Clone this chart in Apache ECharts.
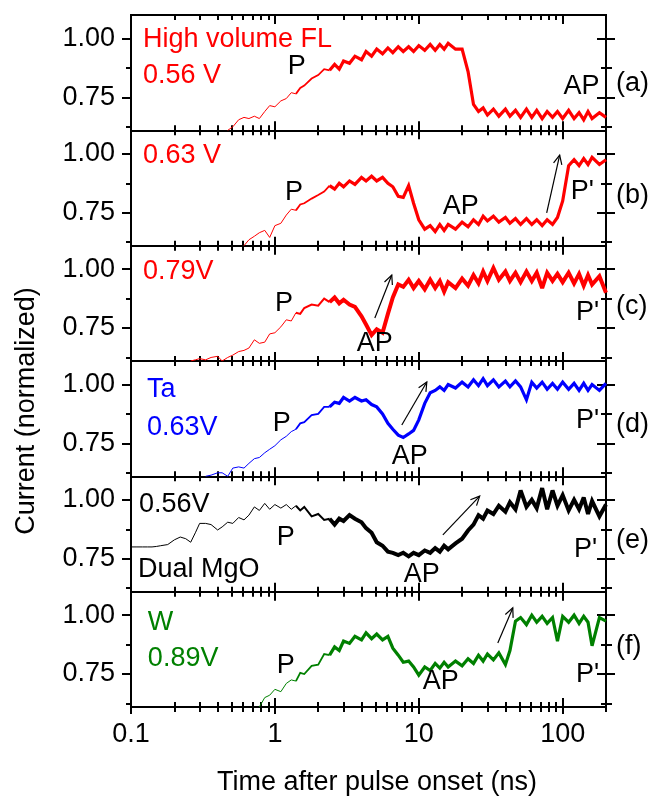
<!DOCTYPE html>
<html><head><meta charset="utf-8">
<script src="https://cdn.jsdelivr.net/npm/echarts@6/dist/echarts.min.js"></script>
<style>html,body{margin:0;padding:0;background:#fff}#c{width:654px;height:802px}</style>
</head><body><div id="c"></div>
<script>
// ---- data ----
const times = [
  0.10,0.11,0.12,0.13,0.14,0.15,0.16,0.18,0.20,0.22,0.24,0.26,0.28,0.30,0.33,0.36,0.40,0.43,0.47,0.51,0.56,0.61,0.66,0.72,0.78,0.85,0.92,
  1.0,1.1,1.2,1.3,1.4,1.5,1.6,1.8,2.0,2.2,2.4,2.6,2.8,3.0,3.3,3.6,4.0,4.3,4.7,5.1,5.6,6.1,6.6,7.2,7.8,8.5,9.2,
  10,11,12,13,14,15,16,18,20,22,24,26,28,30,33,36,40,43,47,51,56,61,66,72,78,85,92,
  100,110,120,130,140,150,160,180,200];
const panelA = [
  null,null,null,null,null,null,null,null,null,null,null,null,null,null,null,null,null,null,0.61,0.625,0.655,0.665,0.66,0.67,0.66,0.69,0.715,
  0.71,0.735,0.745,0.77,0.765,0.79,0.80,0.83,0.845,0.87,0.865,0.89,0.87,0.905,0.895,0.925,0.91,0.945,0.925,0.955,0.935,0.96,0.94,0.965,0.945,0.965,0.945,
  0.97,0.95,0.975,0.95,0.975,0.955,0.98,0.955,0.955,0.86,0.72,0.69,0.705,0.675,0.70,0.67,0.70,0.67,0.695,0.665,0.70,0.665,0.695,0.66,0.69,0.665,0.69,
  0.66,0.695,0.66,0.685,0.655,0.69,0.66,0.685,0.665];
const panelB = [
  null,null,null,null,null,null,null,null,null,null,null,null,null,null,null,null,null,null,null,null,null,0.61,0.635,0.65,0.665,0.675,0.645,
  0.695,0.705,0.74,0.765,0.76,0.785,0.79,0.81,0.825,0.84,0.865,0.85,0.875,0.86,0.885,0.87,0.90,0.885,0.905,0.885,0.90,0.875,0.86,0.82,0.815,0.865,0.79,
  0.72,0.68,0.695,0.67,0.70,0.675,0.70,0.68,0.71,0.69,0.72,0.70,0.735,0.715,0.735,0.71,0.73,0.705,0.725,0.70,0.725,0.70,0.72,0.695,0.72,0.70,0.73,
  0.80,0.95,0.975,0.95,0.98,0.955,0.985,0.955,0.975];
const panelC = [
  null,null,null,null,null,null,null,null,null,null,null,0.61,0.615,0.62,0.615,0.625,0.63,0.61,0.625,0.635,0.65,0.655,0.665,0.70,0.685,0.69,0.725,
  0.73,0.755,0.785,0.78,0.815,0.81,0.835,0.85,0.845,0.875,0.86,0.88,0.855,0.87,0.85,0.84,0.80,0.765,0.72,0.745,0.73,0.81,0.88,0.935,0.925,0.955,0.92,
  0.95,0.915,0.955,0.92,0.95,0.905,0.945,0.92,0.96,0.93,0.975,0.94,0.99,0.95,1.005,0.955,0.99,0.95,0.985,0.945,0.99,0.95,0.985,0.92,0.985,0.95,0.98,
  0.945,0.985,0.94,0.98,0.93,0.975,0.935,0.97,0.90];
const panelD = [
  null,null,null,null,null,null,null,null,null,null,null,null,null,null,0.61,0.615,0.625,0.625,0.61,0.645,0.65,0.645,0.665,0.685,0.69,0.71,0.725,
  0.74,0.765,0.78,0.80,0.81,0.835,0.84,0.87,0.875,0.905,0.905,0.925,0.92,0.945,0.93,0.945,0.93,0.935,0.915,0.905,0.875,0.835,0.81,0.785,0.775,0.79,0.805,
  0.85,0.92,0.965,0.975,0.99,0.975,1.0,0.985,1.01,0.99,1.02,0.995,1.025,0.995,1.02,0.99,1.015,0.99,1.015,0.99,0.935,1.01,0.985,1.01,0.98,1.005,0.98,
  1.01,0.98,1.005,0.975,1.005,0.975,1.0,0.975,1.005];
const panelE = [
  0.80,0.80,0.80,0.80,0.80,0.802,0.805,0.81,0.83,0.842,0.835,0.82,0.86,0.90,0.90,0.895,0.872,0.885,0.905,0.90,0.925,0.915,0.935,0.97,0.955,0.985,0.96,
  0.98,0.965,0.98,0.96,0.975,0.955,0.97,0.93,0.94,0.915,0.92,0.895,0.92,0.91,0.935,0.92,0.905,0.88,0.86,0.82,0.805,0.78,0.775,0.765,0.775,0.76,0.775,
  0.765,0.785,0.775,0.795,0.78,0.805,0.79,0.815,0.835,0.87,0.895,0.935,0.92,0.955,0.94,0.975,0.95,0.99,0.96,1.04,0.97,1.0,0.965,1.05,0.96,1.04,0.975,
  1.02,0.955,1.0,0.96,1.01,0.94,0.995,0.93,0.98];
const panelF = [
  null,null,null,null,null,null,null,null,null,null,null,null,null,null,null,null,null,null,null,null,null,null,null,null,0.61,0.65,0.66,
  0.685,0.675,0.71,0.725,0.72,0.755,0.75,0.785,0.79,0.835,0.83,0.865,0.85,0.89,0.88,0.91,0.895,0.925,0.90,0.92,0.895,0.91,0.86,0.83,0.80,0.805,0.78,
  0.745,0.78,0.765,0.795,0.775,0.80,0.78,0.805,0.785,0.815,0.795,0.83,0.805,0.835,0.81,0.84,0.79,0.85,0.975,0.99,0.96,1.0,0.97,0.995,0.965,0.99,0.89,
  0.995,0.97,1.0,0.965,0.995,0.97,0.87,0.99,0.975];
const panels = [panelA, panelB, panelC, panelD, panelE, panelF];
const panelColors = ['#ff0000','#ff0000','#ff0000','#0000ff','#000000','#008000'];
const panelLetters = ['(a)','(b)','(c)','(d)','(e)','(f)'];
const letterY = [0.807, 0.825, 0.84, 0.828, 0.828, 0.866];
const xMajor = [0.1, 1, 10, 100];
const xMajorLabels = ['0.1', '1', '10', '100'];
const xMinor = [0.2,0.3,0.4,0.5,0.6,0.7,0.8,0.9,2,3,4,5,6,7,8,9,20,30,40,50,60,70,80,90,200];
const yMajor = [0.75, 1.00];
const yMajorLabels = ['0.75', '1.00'];
const yMinor = [0.625, 0.875];
// notes: [panel, text, time, value, color, align]
const notes = [
  [0,'High volume FL',0.121,0.994,'#ff0000','left'],
  [0,'0.56 V',0.121,0.841,'#ff0000','left'],
  [0,'P',1.42,0.883,'#000','center'],
  [0,'AP',135,0.794,'#000','center'],
  [1,'0.63 V',0.121,0.991,'#ff0000','left'],
  [1,'P',1.355,0.834,'#000','center'],
  [1,'AP',19.6,0.778,'#000','center'],
  [1,"P'",137,0.842,'#000','center'],
  [2,'0.79V',0.121,0.988,'#ff0000','left'],
  [2,'P',1.155,0.856,'#000','center'],
  [2,'AP',4.95,0.686,'#000','center'],
  [2,"P'",149,0.814,'#000','center'],
  [3,'Ta',0.129,0.977,'#0000ff','left'],
  [3,'0.63V',0.129,0.819,'#0000ff','left'],
  [3,'P',1.118,0.836,'#000','center'],
  [3,'AP',8.66,0.696,'#000','center'],
  [3,"P'",149,0.849,'#000','center'],
  [4,'0.56V',0.1137,0.982,'#000','left'],
  [4,'Dual MgO',0.112,0.702,'#000','left'],
  [4,'P',1.192,0.838,'#000','center'],
  [4,'AP',10.5,0.681,'#000','center'],
  [4,"P'",144,0.791,'#000','center'],
  [5,'W',0.131,0.967,'#008000','left'],
  [5,'0.89V',0.131,0.814,'#008000','left'],
  [5,'P',1.192,0.784,'#000','center'],
  [5,'AP',14.2,0.72,'#000','center'],
  [5,"P'",149,0.746,'#000','center']
];
// arrows: [panel, t1, v1, t2, v2]
const arrows = [
  [1, 77.4, 0.749, 95.3, 0.995],
  [2, 4.95, 0.793, 6.49, 0.975],
  [3, 7.62, 0.828, 11.37, 1.011],
  [4, 14.7, 0.851, 26.5, 1.016],
  [5, 35.4, 0.882, 45, 1.031]
];
// trace segments: [first index, last index] with stroke width per panel
const segBreaks = [0, 31, 37, 89];
const segWidths = [[1, 1.8, 3.2], [1, 1.8, 3.2], [1, 2, 4], [1, 1.8, 3.2], [1, 2, 4], [1, 1.8, 3.2]];

// ---- chart ----
const FONT = '"Liberation Sans", Arial, Helvetica, sans-serif';
const FS = 27;
const chart = echarts.init(document.getElementById('c'), null, {renderer:'canvas'});
const TOP = 15, H = 115.33;
const grid = [], xAxis = [], yAxis = [], series = [];
const mainSeries = [];
const axLine = {show:true, onZero:false, lineStyle:{color:'#000', width:2}};
function tick(vals, inside, len){ return {show:true, inside:inside, length:len, customValues:vals, lineStyle:{color:'#000', width:2}}; }
for (let i = 0; i < 6; i++) {
  grid.push({left:131, width:475, top:TOP + i*H, height:H});
  const xb = {type:'log', logBase:10, min:0.1, max:200, gridIndex:i, axisLine:axLine, splitLine:{show:false}, minorTick:{show:false}, axisLabel:{show:false}};
  const xi0 = xAxis.length;
  xAxis.push(Object.assign({}, xb, {position:'bottom', axisTick:tick(xMajor, true, 9),
    axisLabel: i === 5 ? {show:true, customValues:xMajor, margin:14, fontSize:FS, fontFamily:FONT, color:'#000',
      formatter: v => { const k = xMajor.findIndex(m => Math.abs(m - v) < 1e-9 * Math.max(1, m)); return k >= 0 ? xMajorLabels[k] : ''; }} : {show:false}}));
  xAxis.push(Object.assign({}, xb, {position:'bottom', axisTick:tick(xMinor, true, 5)}));
  xAxis.push(Object.assign({}, xb, {position:'top', axisTick:tick(xMajor, true, 9)}));
  xAxis.push(Object.assign({}, xb, {position:'top', axisTick:tick(xMinor, true, 5)}));
  if (i === 5) {
    xAxis.push(Object.assign({}, xb, {position:'bottom', axisTick:tick(xMajor, false, 7)}));
    xAxis.push(Object.assign({}, xb, {position:'bottom', axisTick:tick(xMinor, false, 5)}));
  }
  const yb = {type:'value', min:0.61, max:1.10, gridIndex:i, axisLine:axLine, splitLine:{show:false}, axisLabel:{show:false}};
  const yi0 = yAxis.length;
  yAxis.push(Object.assign({}, yb, {position:'left', axisTick:tick(yMajor, false, 9),
    axisLabel:{show:true, customValues:yMajor, margin:16, fontSize:FS, fontFamily:FONT, color:'#000',
      formatter: v => { const k = yMajor.findIndex(m => Math.abs(m - v) < 1e-6); return k >= 0 ? yMajorLabels[k] : ''; }}}));
  yAxis.push(Object.assign({}, yb, {position:'left', axisTick:tick(yMinor, false, 5)}));
  yAxis.push(Object.assign({}, yb, {position:'right', axisTick:tick(yMajor, false, 9)}));
  yAxis.push(Object.assign({}, yb, {position:'right', axisTick:tick(yMajor, true, 9)}));
  yAxis.push(Object.assign({}, yb, {position:'right', axisTick:tick(yMinor, false, 6)}));
  yAxis.push(Object.assign({}, yb, {position:'right', axisTick:tick(yMinor, true, 5)}));
  const pts = times.map((t, k) => [t, panels[i][k]]);
  mainSeries.push(series.length);
  for (let s = 0; s < 3; s++) {
    series.push({type:'line', xAxisIndex:xi0, yAxisIndex:yi0, data:pts.slice(segBreaks[s], segBreaks[s+1] + 1),
      showSymbol:false, symbol:'none', animation:false, z:3,
      lineStyle:{color:panelColors[i], width:segWidths[i][s], join:'miter', miterLimit:3}});
  }
}
chart.setOption({animation:false, grid, xAxis, yAxis, series});

// ---- annotations positioned from data coordinates ----
const g = [];
function px(p, t, v) { return chart.convertToPixel({seriesIndex: mainSeries[p]}, [t, v]); }
notes.forEach(n => {
  const p = px(n[0], n[2], n[3]);
  g.push({type:'text', x:p[0], y:p[1], z:10, style:{text:n[1], fill:n[4], fontSize:FS, fontFamily:FONT, align:n[5], verticalAlign:'middle'}});
});
panelLetters.forEach((s, i) => {
  const p = px(i, 200, letterY[i]);
  g.push({type:'text', x:p[0] + 10, y:p[1], z:10, style:{text:s, fill:'#000', fontSize:FS, fontFamily:FONT, align:'left', verticalAlign:'middle'}});
});
arrows.forEach(a => {
  const p1 = px(a[0], a[1], a[2]), p2 = px(a[0], a[3], a[4]);
  const dx = p2[0]-p1[0], dy = p2[1]-p1[1], L = Math.hypot(dx, dy), ux = dx/L, uy = dy/L;
  const ang = 25*Math.PI/180, al = 10;
  const rot = s => [p2[0] - al*(ux*Math.cos(s*ang) - uy*Math.sin(s*ang)), p2[1] - al*(ux*Math.sin(s*ang) + uy*Math.cos(s*ang))];
  g.push({type:'polyline', z:10, shape:{points:[p1, p2]}, style:{stroke:'#000', lineWidth:1.2, fill:null}});
  g.push({type:'polyline', z:10, shape:{points:[rot(1), p2, rot(-1)]}, style:{stroke:'#000', lineWidth:1.2, fill:null}});
});
g.push({type:'text', x:27, y:411, rotation:Math.PI/2, z:10, style:{text:'Current (normalized)', fill:'#000', fontSize:FS, fontFamily:FONT, align:'center', verticalAlign:'middle'}});
g.push({type:'text', x:377, y:783, z:10, style:{text:'Time after pulse onset (ns)', fill:'#000', fontSize:FS, fontFamily:FONT, align:'center', verticalAlign:'middle'}});
chart.setOption({graphic: g});
</script></body></html>
